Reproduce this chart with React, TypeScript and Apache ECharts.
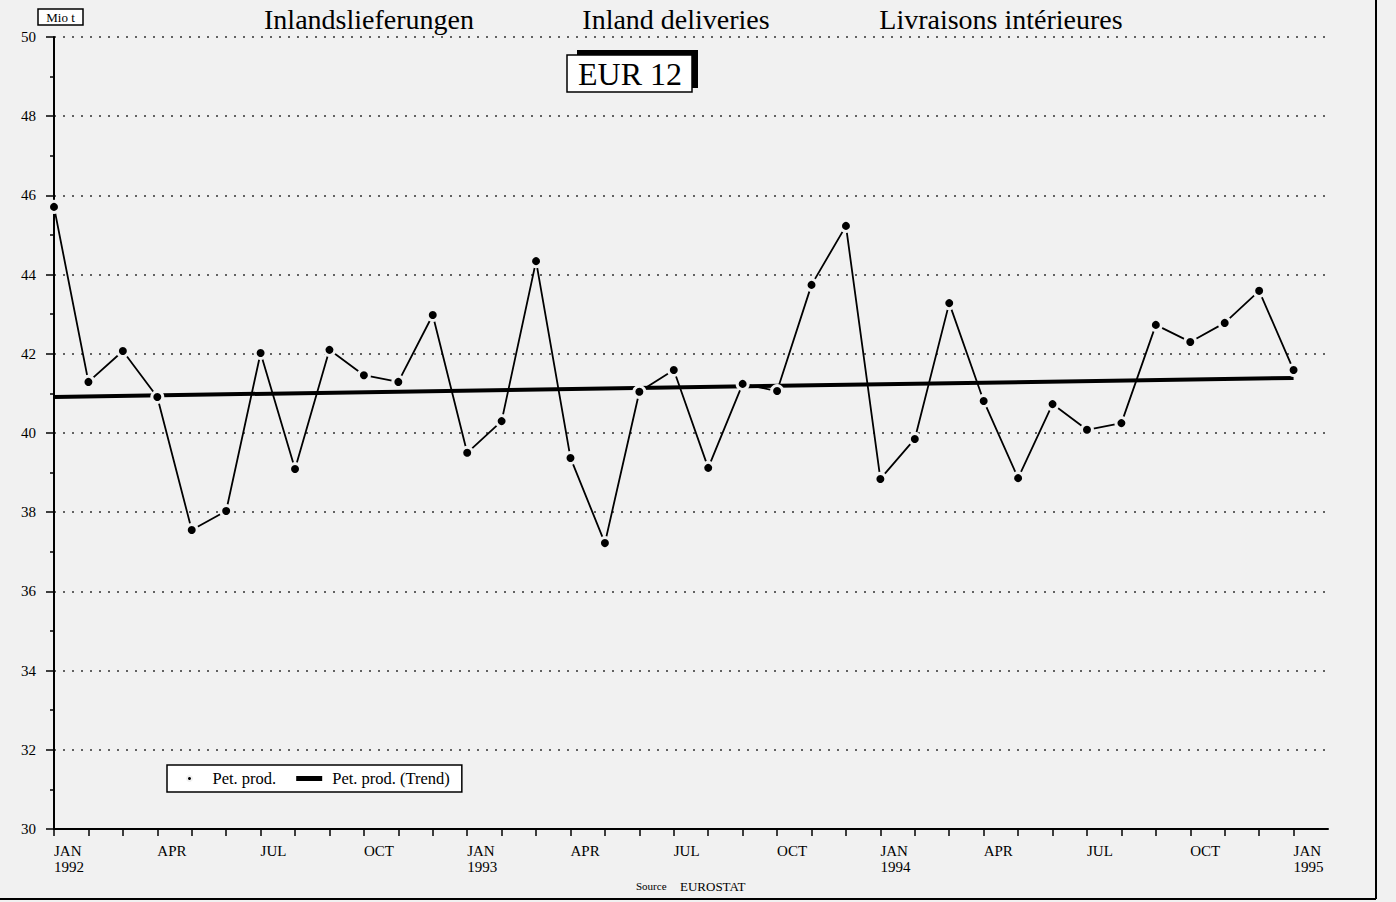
import React, { useEffect, useRef } from "react";
import * as echarts from "echarts";

const values: number[] = [
  45.71, 41.29, 42.07, 40.91, 37.55, 38.03, 42.02, 39.09, 42.1, 41.46, 41.29, 42.98,
  39.5, 40.3, 44.34, 39.37, 37.22, 41.04, 41.59, 39.12, 41.24, 41.06, 43.74, 45.23,
  38.84, 39.85, 43.28, 40.81, 38.86, 40.73, 40.08, 40.25, 42.73, 42.3, 42.78, 43.59,
  41.59,
];
const trendStart = 40.91;
const trendEnd = 41.39;
const tickLabels: string[] = [
  "JAN\n1992", "APR", "JUL", "OCT",
  "JAN\n1993", "APR", "JUL", "OCT",
  "JAN\n1994", "APR", "JUL", "OCT",
  "JAN\n1995",
];
const titles: string[] = ["Inlandslieferungen", "Inland deliveries", "Livraisons intérieures"];

const BG = "#f1f1f1";
const FONT = "'Liberation Serif', 'DejaVu Serif', serif";

export default function App() {
  const ref = useRef<HTMLDivElement>(null);
  useEffect(() => {
    if (!ref.current) return;
    const chart = echarts.init(ref.current, undefined, { renderer: "svg" });
    const monthTicks = values.map((_, i) => i);
    const labelTicks = tickLabels.map((_, i) => i * 3);
    const option: any = {
      animation: false,
      backgroundColor: BG,
      textStyle: { fontFamily: FONT, color: "#000" },
      grid: { left: 54, right: 68, top: 37, bottom: 73, containLabel: false },
      xAxis: {
        type: "value",
        min: 0,
        max: 37,
        axisLine: { show: true, lineStyle: { color: "#000", width: 2 } },
        axisTick: { show: true, customValues: monthTicks, length: 7, inside: false, lineStyle: { color: "#000", width: 1.5 } },
        axisLabel: {
          customValues: labelTicks,
          formatter: (v: number) => tickLabels[Math.round(v / 3)] ?? "",
          align: "left",
          margin: 14,
          fontFamily: FONT,
          fontSize: 15,
          lineHeight: 16,
          color: "#000",
        },
        splitLine: { show: false },
      },
      yAxis: {
        type: "value",
        min: 30,
        max: 50,
        interval: 2,
        axisLine: { show: true, lineStyle: { color: "#000", width: 2 } },
        axisTick: { show: true, length: 8, lineStyle: { color: "#000", width: 1.5 } },
        minorTick: { show: true, splitNumber: 2, length: 4, lineStyle: { color: "#000", width: 1.5 } },
        axisLabel: { margin: 18, fontFamily: FONT, fontSize: 15, color: "#000" },
        splitLine: { show: true, lineStyle: { color: "#333", width: 1.5, type: [2, 7] } },
      },
      legend: {
        left: 167,
        top: 765,
        orient: "horizontal",
        backgroundColor: "#fff",
        borderColor: "#000",
        borderWidth: 1.5,
        borderRadius: 0,
        padding: [5, 12, 5, 19],
        itemGap: 20,
        itemWidth: 26,
        itemHeight: 5,
        textStyle: { fontFamily: FONT, fontSize: 16.5, color: "#000", padding: [0, 0, 0, 5] },
        data: [
          { name: "Pet. prod.", icon: "circle" },
          { name: "Pet. prod. (Trend)", icon: "rect" },
        ],
      },
      series: [
        {
          name: "Pet. prod. (Trend)",
          type: "line",
          data: [[0, trendStart], [values.length - 1, trendEnd]],
          showSymbol: false,
          symbol: "none",
          lineStyle: { color: "#000", width: 4 },
          itemStyle: { color: "#000" },
          z: 2,
        },
        {
          name: "Pet. prod.",
          type: "line",
          data: values.map((v, i) => [i, v]),
          symbol: "circle",
          symbolSize: 11,
          showSymbol: true,
          lineStyle: { color: "#000", width: 1.8 },
          itemStyle: { color: "#000", borderColor: BG, borderWidth: 3 },
          z: 3,
        },
      ],
      graphic: [
        {
          type: "group",
          children: [
            { type: "rect", shape: { x: 38, y: 9, width: 45, height: 16 }, style: { fill: "#fff", stroke: "#000", lineWidth: 1.5 } },
            { type: "text", x: 60.5, y: 17.5, style: { text: "Mio t", font: `13px ${FONT}`, fill: "#000", align: "center", verticalAlign: "middle" } },
          ],
        },
        { type: "text", x: 369, y: 19, style: { text: titles[0], font: `28px ${FONT}`, fill: "#000", align: "center", verticalAlign: "middle" } },
        { type: "text", x: 676, y: 19, style: { text: titles[1], font: `28px ${FONT}`, fill: "#000", align: "center", verticalAlign: "middle" } },
        { type: "text", x: 1001, y: 19, style: { text: titles[2], font: `28px ${FONT}`, fill: "#000", align: "center", verticalAlign: "middle" } },
        {
          type: "group",
          children: [
            { type: "rect", shape: { x: 577, y: 50, width: 121, height: 38 }, style: { fill: "#000" } },
            { type: "rect", shape: { x: 567, y: 55, width: 125, height: 37 }, style: { fill: "#fff", stroke: "#000", lineWidth: 1.5 } },
            { type: "text", x: 630, y: 74, style: { text: "EUR 12", font: `32px ${FONT}`, fill: "#000", align: "center", verticalAlign: "middle" } },
          ],
        },
        { type: "text", x: 636, y: 886, style: { text: "Source", font: `11px ${FONT}`, fill: "#000", verticalAlign: "middle" } },
        { type: "text", x: 680, y: 886, style: { text: "EUROSTAT", font: `13px ${FONT}`, fill: "#000", verticalAlign: "middle" } },
        { type: "line", shape: { x1: 1376, y1: 0, x2: 1376, y2: 899 }, style: { stroke: "#000", lineWidth: 2 } },
        { type: "line", shape: { x1: 0, y1: 899, x2: 1376, y2: 899 }, style: { stroke: "#000", lineWidth: 2 } },
      ],
    };
    chart.setOption(option);
    return () => chart.dispose();
  }, []);
  return <div ref={ref} style={{ position: "fixed", left: 0, top: 0, width: 1396, height: 902 }} />;
}
